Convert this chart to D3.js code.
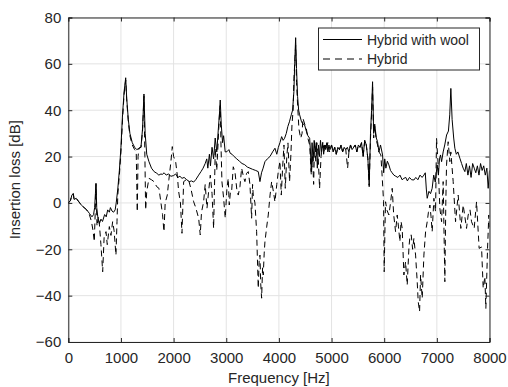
<!DOCTYPE html>
<html><head><meta charset="utf-8">
<script src="https://cdn.jsdelivr.net/npm/d3@7"></script>
<style>
html,body{margin:0;padding:0;background:#fff;}
svg text{font-family:"Liberation Sans",Arial,Helvetica,sans-serif;fill:#262626;}
</style></head>
<body><svg id="c" width="508" height="387"></svg>
<script>
const xTicks=[0,1000,2000,3000,4000,5000,6000,7000,8000];
const yTicks=[-60,-40,-20,0,20,40,60,80];
const seriesNames=["Hybrid with wool","Hybrid"];
const woolFreq=[0,40,70,95,110,150,200,250,300,350,400,450,480,500,515,526,540,560,590,620,650,690,720,748,780,800,830,860,890,910,940,970,1000,1030,1060,1090,1110,1140,1170,1215,1260,1300,1342,1380,1410,1437,1460,1490,1532,1580,1630,1680,1720,1760,1785,1820,1860,1900,1950,2000,2040,2080,2120,2160,2200,2250,2300,2340,2380,2420,2476,2520,2560,2602,2630,2650,2680,2700,2730,2760,2790,2820,2850,2870,2886,2905,2930,2950,2980,3013,3050,3076,3110,3150,3200,3250,3300,3350,3400,3450,3500,3560,3608,3640,3670,3700,3735,3780,3830,3880,3925,3960,3990,4020,4052,4080,4108,4140,4170,4200,4235,4260,4285,4300,4318,4335,4355,4375,4394,4430,4460,4489,4520,4550,4584,4600,4615,4630,4650,4670,4690,4710,4730,4750,4770,4790,4810,4830,4850,4870,4890,4910,4930,4950,4970,5000,5030,5060,5090,5120,5150,5180,5210,5240,5270,5300,5330,5360,5390,5420,5450,5480,5510,5540,5570,5600,5630,5660,5690,5715,5740,5760,5779,5800,5820,5850,5874,5900,5930,5969,5990,6010,6032,6060,6089,6120,6150,6184,6220,6260,6300,6340,6374,6410,6440,6480,6520,6564,6600,6640,6680,6720,6754,6780,6800,6817,6850,6880,6911,6940,6970,7006,7030,7050,7070,7090,7120,7150,7185,7220,7245,7266,7290,7320,7342,7370,7400,7437,7470,7500,7532,7560,7590,7620,7650,7680,7710,7740,7770,7800,7830,7860,7890,7920,7950,7975,8000];
const woolLoss=[0,1,3.5,4,1.5,2,0.5,-1,-2,-3,-4.5,-6,-5,-2,4,8.5,-2,-6,-9,-7,-8,-5,-6,-3,-4,-2,-3.5,-4,-3,0,6,14,24,38,48,54,45,36,30,26,24,23,23.5,24,32,47,30,21,17.8,15,13.5,12.8,12,12.5,12.3,13,12,12.5,11.5,11.8,12.5,11,11.5,10.6,11,10,9.2,9.5,9,10,12,13.5,15,17.1,19,15,21,16,24,19,28,22,32,38,44.4,34,26,29,22,22.1,23,21.4,21,20,19,18,17,16.5,15.5,15,14.5,14,13.5,9.2,13,15,17.8,19,20,22,23.6,21,24,26,28.6,27,27.9,30,33,35,38,40,48,60,71.3,58,46,40,38,35,34,33.6,31,29,27.9,22,13.5,26,18,27,22,26,15,25,20,27,22,26,21,25,23,26,22,25,23,25,22,24,21,24,23,25,22,24,23,24,22,25,23,24,25,22,25,24,26,20,27,25,19,7.7,30,40,52.3,30,34,28,26.4,22,25,20.7,13,19,15,18,16.4,14,13,12,11.5,11,12,10,10.6,11,9.5,11,10,9.9,11,10,12,11,12,13,6,2,5,4,6.3,12,9,16.4,12,19,20.7,17.8,22,25,29.3,31,38,49.4,36,28,23.6,21,22,19.3,17,15,13.5,17,12,16,11,17,15,13,16,12,17,14,16,12,15,6.3,14];
const hybFreq=[0,40,70,95,110,150,200,250,300,350,400,440,470,494,510,526,545,570,589,620,653,680,716,740,779,810,842,870,905,925,940,970,1000,1030,1060,1090,1110,1140,1170,1215,1260,1290,1310,1325,1342,1380,1410,1437,1455,1469,1490,1532,1580,1627,1680,1722,1760,1790,1817,1840,1880,1910,1950,1975,2000,2039,2070,2096,2130,2159,2191,2240,2286,2330,2381,2420,2476,2506,2530,2570,2600,2634,2670,2697,2730,2760,2792,2820,2855,2875,2886,2900,2918,2950,2981,3013,3038,3057,3080,3102,3133,3165,3200,3228,3260,3292,3330,3355,3387,3418,3450,3482,3500,3513,3545,3577,3608,3625,3640,3655,3672,3690,3703,3720,3735,3770,3798,3830,3862,3895,3925,3960,3988,4020,4045,4070,4096,4121,4150,4172,4203,4230,4248,4270,4286,4305,4318,4335,4349,4380,4413,4440,4457,4490,4520,4550,4584,4615,4640,4660,4678,4700,4720,4741,4773,4800,4836,4860,4880,4900,4930,4960,5000,5030,5060,5090,5120,5150,5180,5210,5240,5270,5305,5330,5360,5390,5420,5450,5480,5510,5540,5570,5600,5630,5660,5690,5715,5740,5760,5779,5800,5820,5850,5874,5900,5937,5965,5988,6000,6015,6026,6050,6089,6120,6152,6180,6216,6247,6270,6298,6320,6342,6374,6406,6437,6469,6490,6513,6540,6564,6596,6627,6646,6672,6691,6722,6754,6786,6817,6840,6868,6890,6911,6944,6975,6994,7025,7057,7090,7120,7152,7170,7184,7215,7247,7266,7290,7310,7355,7405,7456,7500,7564,7595,7630,7659,7709,7754,7803,7849,7880,7912,7931,7963,7987,8000];
const hybLoss=[0,1,3.5,4,1.5,2,0.5,-1,-2,-3,-5,-8,-12,-16.7,-5,8,-10,-6,-8.8,-18,-29.7,-15,-12.4,-18,-10.2,-14,-8.1,-12,-22.5,-8,3.4,12,22,36,47,53,44,35,29,25,23,22,-3.8,20,23.7,24,31,46,20,-3,5,10.6,10,9.2,7,6.3,0,-5,-12.4,0,3.4,10,18,24.3,20,17.8,12,4.9,0,-13.1,9.2,10,9.9,6,0.5,-2,-6.6,-13.8,-4,0.5,8,-2.3,6,12,4,-11,23.6,14,30.7,40,42,25,9.2,2,-6.6,6.3,10.6,-0.9,4.9,4.9,15.6,13.5,6,3.4,7,15,11,9.2,12.8,13.5,8,-6.6,8,3.4,0,-12.4,-36.8,-25,-22.5,-35,-41.1,-28,-31.1,-22,-16.7,-10,-5.2,3,9.2,5,0.5,8,13.5,18,3.4,15,25,6.3,20,25.9,9.2,22,33.6,40,53.8,62,68,52,45.1,32,27.9,30,36.5,34,32.2,28,25,12,20,8,26.4,18,26,22.1,6.3,20,26.4,22,25,23,26,22,25,22,24,21,24,23,25,22,24,23,15,22,25,23,24,25,22,25,24,26,20,27,25,19,7,28,38,50,28,33,27,25,22,20.7,10,0.5,-29.7,-10,0.5,-3,-5.2,0,6.3,-5,-12.4,-5.2,-10,-16.7,-8,-11,-31.1,-25.4,-35.4,-19.6,-14,-13.8,-20,-15.3,-22.5,-34,-42.6,-46.9,-31.1,-41.1,-22.5,-12.4,-8.1,-4,-0.9,-6,-12.4,2,-3.8,27.9,16.4,-2.3,-8.1,9.2,-34,0,16.4,26.4,17.8,22,15,9.2,-8.1,3.4,-11,-0.9,-11,-5.2,-3,-8.1,-11,0.5,-19.6,-19,-36.8,-31.8,-45.5,-19.6,-5.2,-12];

const L=68.3,R=489.5,T=17.5,B=342;
const svg=d3.select("#c");
const x=d3.scaleLinear().domain([0,8000]).range([L,R]);
const y=d3.scaleLinear().domain([-60,80]).range([B,T]);
const axisCol="#262626";

// grid
const g=svg.append("g");
g.selectAll(".gx").data(xTicks).join("line").attr("x1",d=>x(d)).attr("x2",d=>x(d)).attr("y1",T).attr("y2",B).attr("stroke","#e3e3e3").attr("stroke-width",1);
g.selectAll(".gy").data(yTicks).join("line").attr("y1",d=>y(d)).attr("y2",d=>y(d)).attr("x1",L).attr("x2",R).attr("stroke","#e3e3e3").attr("stroke-width",1);

svg.append("clipPath").attr("id","clip").append("rect").attr("x",L).attr("y",T).attr("width",R-L).attr("height",B-T);

const mk=(f,v)=>f.map((d,i)=>[d,v[i]]);
const line=d3.line().x(d=>x(d[0])).y(d=>y(d[1]));
const plot=svg.append("g").attr("clip-path","url(#clip)");
plot.append("path").attr("d",line(mk(hybFreq,hybLoss))).attr("fill","none").attr("stroke","#000").attr("stroke-width",1).attr("stroke-dasharray","6,4");
plot.append("path").attr("d",line(mk(woolFreq,woolLoss))).attr("fill","none").attr("stroke","#000").attr("stroke-width",1);

// axes
const tl=4;
const xb=svg.append("g").attr("transform",`translate(0,${B})`).call(d3.axisBottom(x).tickValues(xTicks).tickSize(-tl).tickPadding(10).tickFormat(d3.format("d")));
const xt=svg.append("g").attr("transform",`translate(0,${T})`).call(d3.axisTop(x).tickValues(xTicks).tickSize(-tl).tickFormat(""));
const yl=svg.append("g").attr("transform",`translate(${L},0)`).call(d3.axisLeft(y).tickValues(yTicks).tickSize(-tl).tickPadding(7).tickFormat(d=>d<0?"\u2212"+Math.abs(d):d));
const yr=svg.append("g").attr("transform",`translate(${R},0)`).call(d3.axisRight(y).tickValues(yTicks).tickSize(-tl).tickFormat(""));
[xb,xt,yl,yr].forEach(a=>{a.select(".domain").attr("stroke",axisCol).attr("stroke-width",1);a.selectAll(".tick line").attr("stroke",axisCol);a.selectAll("text").attr("font-size",15).attr("fill",axisCol).style("font-family","'Liberation Sans',Arial,sans-serif");});

svg.append("text").attr("x",(L+R)/2).attr("y",383).attr("text-anchor","middle").attr("font-size",15).text("Frequency [Hz]");
svg.append("text").attr("transform",`translate(20,${(T+B)/2}) rotate(-90)`).attr("text-anchor","middle").attr("font-size",15).text("Insertion loss [dB]");

// legend
const lg=svg.append("g");
lg.append("rect").attr("x",318.5).attr("y",28).attr("width",161).attr("height",42).attr("fill","#fff").attr("stroke",axisCol).attr("stroke-width",1);
const lrows=[{n:seriesNames[0],dash:null,yy:39.5},{n:seriesNames[1],dash:"7,5",yy:59}];
lrows.forEach(r=>{
  lg.append("line").attr("x1",323).attr("x2",362).attr("y1",r.yy).attr("y2",r.yy).attr("stroke","#000").attr("stroke-width",1).attr("stroke-dasharray",r.dash);
  lg.append("text").attr("x",367).attr("y",r.yy+5).attr("font-size",14).text(r.n);
});
</script></body></html>
